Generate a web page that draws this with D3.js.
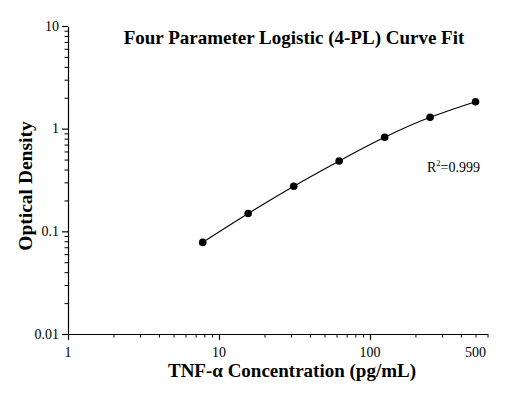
<!DOCTYPE html>
<html>
<head>
<meta charset="utf-8">
<script src="https://cdn.jsdelivr.net/npm/d3@7"></script>
<style>
  body { margin: 0; background: #fff; }
  text { font-family: "Liberation Serif", "Times New Roman", serif; fill: #000; }
</style>
</head>
<body>
<div id="chart"></div>
<script>
// standards (pg/mL) and measured OD
var concentrations = [7.8, 15.6, 31.25, 62.5, 125, 250, 500];
var odValues = [0.078, 0.149, 0.275, 0.485, 0.824, 1.29, 1.83];

var xMajorTicks = [1, 10, 100];
var xMinorTicks = [2, 3, 4, 5, 6, 7, 8, 9, 20, 30, 40, 50, 60, 70, 80, 90, 200, 300, 400, 500, 600];
var xLabelValues = [1, 10, 100, 500];
var yMajorTicks = [0.01, 0.1, 1, 10];
var yMinorTicks = [0.02, 0.03, 0.04, 0.05, 0.06, 0.07, 0.08, 0.09,
  0.2, 0.3, 0.4, 0.5, 0.6, 0.7, 0.8, 0.9, 2, 3, 4, 5, 6, 7, 8, 9];

var chartTitle = "Four Parameter Logistic (4-PL) Curve Fit";
var xTitle = "TNF-α Concentration (pg/mL)";
var yTitle = "Optical Density";

var width = 510, height = 399;

var svg = d3.select("#chart")
  .append("svg")
  .attr("width", width)
  .attr("height", height);

var x = d3.scaleLog().domain([1, 600]).range([68, 487.5]);
var y = d3.scaleLog().domain([0.01, 10]).range([334, 26]);

// x axis: major + minor ticks, labels drawn separately
svg.append("g")
  .attr("transform", "translate(0,334)")
  .call(d3.axisBottom(x).tickValues(xMajorTicks).tickSize(6).tickFormat("").tickSizeOuter(0))
  .call(function (g) { g.selectAll("path, line").attr("stroke", "#000").attr("stroke-width", 1.2); });
svg.append("g")
  .attr("transform", "translate(0,334)")
  .call(d3.axisBottom(x).tickValues(xMinorTicks).tickSize(3.5).tickFormat("").tickSizeOuter(0))
  .call(function (g) {
    g.select(".domain").remove();
    g.selectAll("line").attr("stroke", "#000").attr("stroke-width", 1);
  });
svg.append("g")
  .selectAll("text")
  .data(xLabelValues)
  .enter().append("text")
  .attr("x", function (d) { return x(d); })
  .attr("y", 357)
  .attr("text-anchor", "middle")
  .style("font-size", "14px")
  .text(function (d) { return d; });

// y axis
svg.append("g")
  .attr("transform", "translate(68,0)")
  .call(d3.axisLeft(y).tickValues(yMajorTicks).tickSize(6).tickFormat("").tickSizeOuter(0))
  .call(function (g) { g.selectAll("path, line").attr("stroke", "#000").attr("stroke-width", 1.2); });
svg.append("g")
  .attr("transform", "translate(68,0)")
  .call(d3.axisLeft(y).tickValues(yMinorTicks).tickSize(3.5).tickFormat("").tickSizeOuter(0))
  .call(function (g) {
    g.select(".domain").remove();
    g.selectAll("line").attr("stroke", "#000").attr("stroke-width", 1);
  });
svg.append("g")
  .selectAll("text")
  .data(yMajorTicks)
  .enter().append("text")
  .attr("x", 59)
  .attr("y", function (d) { return y(d) + 4.5; })
  .attr("text-anchor", "end")
  .style("font-size", "14px")
  .text(function (d) { return d; });

// fitted curve through the standards
svg.append("path")
  .datum(concentrations.map(function (c, i) { return [c, odValues[i]]; }))
  .attr("fill", "none")
  .attr("stroke", "#000")
  .attr("stroke-width", 1.1)
  .attr("d", d3.line()
    .x(function (d) { return x(d[0]); })
    .y(function (d) { return y(d[1]); })
    .curve(d3.curveNatural));

svg.append("g")
  .selectAll("circle")
  .data(concentrations)
  .enter().append("circle")
  .attr("cx", function (d) { return x(d); })
  .attr("cy", function (d, i) { return y(odValues[i]); })
  .attr("r", 3.8)
  .attr("fill", "#000");

// titles
svg.append("text")
  .attr("x", 294)
  .attr("y", 44)
  .attr("text-anchor", "middle")
  .style("font-size", "19px")
  .style("font-weight", "bold")
  .text(chartTitle);

svg.append("text")
  .attr("x", 292)
  .attr("y", 377)
  .attr("text-anchor", "middle")
  .style("font-size", "19px")
  .style("font-weight", "bold")
  .text(xTitle);

svg.append("text")
  .attr("transform", "translate(32,186) rotate(-90)")
  .attr("text-anchor", "middle")
  .style("font-size", "19.5px")
  .style("font-weight", "bold")
  .text(yTitle);

// R squared note
var r2 = svg.append("text")
  .attr("x", 427)
  .attr("y", 172)
  .style("font-size", "14px");
r2.append("tspan").text("R");
r2.append("tspan").attr("dy", -6).style("font-size", "8.5px").text("2");
r2.append("tspan").attr("dy", 6).text("=0.999");
</script>
</body>
</html>
